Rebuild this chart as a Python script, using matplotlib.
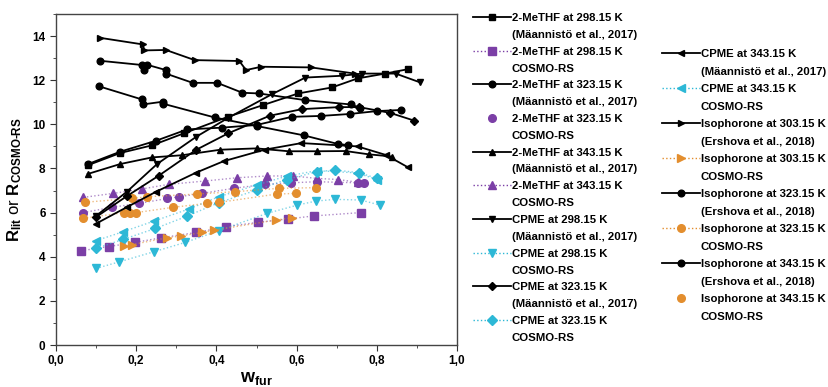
import numpy as np
import matplotlib
matplotlib.use('Agg')
import matplotlib.pyplot as plt
from matplotlib.lines import Line2D
from matplotlib.ticker import FuncFormatter, MultipleLocator

plt.rcParams['font.family'] = ['Liberation Sans', 'DejaVu Sans']
plt.rcParams['font.weight'] = 'bold'
plt.rcParams['mathtext.fontset'] = 'custom'
plt.rcParams['mathtext.rm'] = 'Liberation Sans:bold'
plt.rcParams['mathtext.bf'] = 'Liberation Sans:bold'
plt.rcParams['mathtext.default'] = 'bf'

# ---- experimental data (black) ----
methf298_x = [0.08, 0.16, 0.24, 0.32, 0.43, 0.516, 0.604, 0.688, 0.752, 0.821, 0.878]
methf298_y = [8.15, 8.70, 9.05, 9.60, 10.35, 10.87, 11.40, 11.67, 12.08, 12.30, 12.50]

methf323_x = [0.08, 0.16, 0.25, 0.327, 0.414, 0.50, 0.588, 0.66, 0.733, 0.80, 0.86]
methf323_y = [8.20, 8.76, 9.26, 9.77, 9.85, 9.97, 10.34, 10.38, 10.47, 10.60, 10.65]

methf343_x = [0.079, 0.16, 0.239, 0.314, 0.41, 0.50, 0.58, 0.65, 0.722, 0.78, 0.839]
methf343_y = [7.75, 8.20, 8.50, 8.60, 8.85, 8.91, 8.78, 8.78, 8.79, 8.64, 8.54]

cpme298_x = [0.10, 0.177, 0.252, 0.35, 0.43, 0.539, 0.622, 0.712, 0.764, 0.847, 0.908]
cpme298_y = [5.85, 6.95, 8.20, 9.44, 10.30, 11.37, 12.12, 12.20, 12.30, 12.30, 11.90]

cpme323_x = [0.10, 0.177, 0.256, 0.349, 0.429, 0.533, 0.614, 0.706, 0.756, 0.833, 0.893]
cpme323_y = [5.80, 6.75, 7.67, 8.84, 9.59, 10.39, 10.69, 10.78, 10.78, 10.52, 10.17]

cpme343_x = [0.10, 0.177, 0.25, 0.348, 0.418, 0.52, 0.612, 0.752, 0.823, 0.877]
cpme343_y = [5.50, 6.25, 6.95, 7.80, 8.33, 8.85, 9.15, 9.00, 8.61, 8.06]

iso303_x = [0.11, 0.217, 0.22, 0.274, 0.346, 0.457, 0.474, 0.512, 0.636, 0.745]
iso303_y = [13.92, 13.62, 13.35, 13.37, 12.91, 12.87, 12.46, 12.61, 12.58, 12.30]

iso323_x = [0.11, 0.214, 0.22, 0.227, 0.274, 0.274, 0.341, 0.402, 0.465, 0.506, 0.62, 0.735, 0.758]
iso323_y = [12.88, 12.69, 12.45, 12.70, 12.46, 12.30, 11.88, 11.88, 11.43, 11.40, 11.10, 10.90, 10.75]

iso343_x = [0.106, 0.214, 0.216, 0.268, 0.268, 0.396, 0.502, 0.618, 0.703, 0.728]
iso343_y = [11.73, 11.13, 10.90, 11.03, 10.93, 10.31, 9.92, 9.50, 9.11, 9.06]

# ---- COSMO-RS predictions (coloured) ----
c_methf298_x = [0.0625, 0.131, 0.1975, 0.2625, 0.35, 0.424, 0.504, 0.578, 0.643, 0.76]
c_methf298_y = [4.27, 4.46, 4.65, 4.86, 5.10, 5.36, 5.56, 5.71, 5.85, 6.00]

c_methf323_x = [0.068, 0.139, 0.208, 0.278, 0.3075, 0.364, 0.443, 0.52, 0.587, 0.65, 0.754, 0.768]
c_methf323_y = [6.00, 6.24, 6.42, 6.64, 6.72, 6.87, 7.10, 7.28, 7.35, 7.40, 7.35, 7.33]

c_methf343_x = [0.068, 0.143, 0.214, 0.281, 0.371, 0.452, 0.527, 0.591, 0.65, 0.704, 0.754]
c_methf343_y = [6.69, 6.87, 7.07, 7.28, 7.43, 7.58, 7.66, 7.66, 7.55, 7.50, 7.37]

c_cpme298_x = [0.10, 0.158, 0.245, 0.3225, 0.406, 0.527, 0.602, 0.6475, 0.695, 0.76, 0.808]
c_cpme298_y = [3.47, 3.77, 4.23, 4.65, 5.18, 5.97, 6.34, 6.52, 6.60, 6.57, 6.34]

c_cpme323_x = [0.10, 0.168, 0.2475, 0.327, 0.406, 0.50, 0.575, 0.65, 0.695, 0.756, 0.80]
c_cpme323_y = [4.38, 4.79, 5.28, 5.84, 6.45, 7.02, 7.50, 7.85, 7.93, 7.81, 7.55]

c_cpme343_x = [0.10, 0.167, 0.245, 0.331, 0.406, 0.50, 0.575, 0.65, 0.75, 0.80]
c_cpme343_y = [4.73, 5.13, 5.62, 6.16, 6.72, 7.25, 7.65, 7.90, 7.80, 7.50]

c_iso303_x = [0.17, 0.19, 0.277, 0.3125, 0.364, 0.393, 0.5475, 0.589]
c_iso303_y = [4.50, 4.55, 4.86, 4.94, 5.10, 5.20, 5.66, 5.77]

c_iso323_x = [0.068, 0.17, 0.185, 0.20, 0.292, 0.377, 0.406, 0.55, 0.5975]
c_iso323_y = [5.74, 6.00, 6.00, 6.00, 6.24, 6.42, 6.46, 6.84, 6.87]

c_iso343_x = [0.0725, 0.189, 0.227, 0.352, 0.4475, 0.556, 0.6475]
c_iso343_y = [6.47, 6.64, 6.72, 6.84, 6.95, 7.10, 7.13]

purple = '#7B3FA6'
cyan = '#2DB8D6'
orange = '#E38E2E'

fig = plt.figure(figsize=(8.29, 3.87), dpi=100)
ax = fig.add_axes([56 / 829, 42 / 387, 401 / 829, 331 / 387])


def exp_line(x, y, marker, ms=4.8):
    h, = ax.plot(x, y, color='black', lw=1.3, marker=marker, ms=ms, zorder=3)
    return h


def cosmo_line(x, y, marker, color, ms=5.5, show_line=True):
    ax.plot(x, y, color=color, lw=1.0, ls=':', alpha=0.6, zorder=2)
    ax.plot(x, y, color=color, ls='none', marker=marker, ms=ms, zorder=2)
    return Line2D([], [], color=color, lw=1.0, ls=':' if show_line else 'none',
                  marker=marker, ms=ms)


h = []
h.append(exp_line(methf298_x, methf298_y, 's'))
h.append(cosmo_line(c_methf298_x, c_methf298_y, 's', purple))
h.append(exp_line(methf323_x, methf323_y, 'o'))
h.append(cosmo_line(c_methf323_x, c_methf323_y, 'o', purple, show_line=False))
h.append(exp_line(methf343_x, methf343_y, '^'))
h.append(cosmo_line(c_methf343_x, c_methf343_y, '^', purple))
h.append(exp_line(cpme298_x, cpme298_y, 'v'))
h.append(cosmo_line(c_cpme298_x, c_cpme298_y, 'v', cyan))
h.append(exp_line(cpme323_x, cpme323_y, 'D', ms=4.2))
h.append(cosmo_line(c_cpme323_x, c_cpme323_y, 'D', cyan, ms=5))
h.append(exp_line(cpme343_x, cpme343_y, '<'))
h.append(cosmo_line(c_cpme343_x, c_cpme343_y, '<', cyan))
h.append(exp_line(iso303_x, iso303_y, '>'))
h.append(cosmo_line(c_iso303_x, c_iso303_y, '>', orange))
h.append(exp_line(iso323_x, iso323_y, 'o'))
h.append(cosmo_line(c_iso323_x, c_iso323_y, 'o', orange))
h.append(exp_line(iso343_x, iso343_y, 'o'))
h.append(cosmo_line(c_iso343_x, c_iso343_y, 'o', orange, show_line=False))

labels = [
    ('2-MeTHF at 298.15 K', '(Mäannistö et al., 2017)'),
    ('2-MeTHF at 298.15 K', 'COSMO-RS'),
    ('2-MeTHF at 323.15 K', '(Mäannistö et al., 2017)'),
    ('2-MeTHF at 323.15 K', 'COSMO-RS'),
    ('2-MeTHF at 343.15 K', '(Mäannistö et al., 2017)'),
    ('2-MeTHF at 343.15 K', 'COSMO-RS'),
    ('CPME at 298.15 K', '(Mäannistö et al., 2017)'),
    ('CPME at 298.15 K', 'COSMO-RS'),
    ('CPME at 323.15 K', '(Mäannistö et al., 2017)'),
    ('CPME at 323.15 K', 'COSMO-RS'),
    ('CPME at 343.15 K', '(Mäannistö et al., 2017)'),
    ('CPME at 343.15 K', 'COSMO-RS'),
    ('Isophorone at 303.15 K', '(Ershova et al., 2018)'),
    ('Isophorone at 303.15 K', 'COSMO-RS'),
    ('Isophorone at 323.15 K', '(Ershova et al., 2018)'),
    ('Isophorone at 323.15 K', 'COSMO-RS'),
    ('Isophorone at 343.15 K', '(Ershova et al., 2018)'),
    ('Isophorone at 343.15 K', 'COSMO-RS'),
]

ax.set_xlim(0, 1.0)
ax.set_ylim(0, 15)
ax.xaxis.set_major_locator(MultipleLocator(0.2))
ax.xaxis.set_minor_locator(MultipleLocator(0.1))
ax.yaxis.set_major_locator(MultipleLocator(2))
ax.yaxis.set_minor_locator(MultipleLocator(1))
ax.xaxis.set_major_formatter(FuncFormatter(lambda v, p: f'{v:.1f}'.replace('.', ',')))
ax.tick_params(which='both', direction='out', top=False, right=False,
               labelsize=8.5, color='#333333')
ax.tick_params(which='major', length=4)
ax.tick_params(which='minor', length=2.5)
for s in ax.spines.values():
    s.set_color('#444444')
    s.set_linewidth(1.0)

ax.set_xlabel(r'$\mathbf{w}_{\mathbf{fur}}$', fontsize=13, labelpad=2)
ax.set_ylabel(r'$\mathbf{R}_{\mathbf{lit}}$ or $\mathbf{R}_{\mathbf{COSMO\text{-}RS}}$',
              fontsize=12, labelpad=6)


def rows(handles, labs):
    hh, ll = [], []
    for hd, (a, b) in zip(handles, labs):
        hh += [hd, Line2D([], [], ls='none')]
        ll += [a, b]
    return hh, ll


hh1, ll1 = rows(h[:10], labels[:10])
hh2, ll2 = rows(h[10:], labels[10:])
common = dict(frameon=False, fontsize=8.2, handlelength=3.3, handletextpad=0.1,
              borderpad=0, borderaxespad=0, loc='upper left')
leg1 = fig.legend(hh1, ll1, bbox_to_anchor=(473 / 829, 1 - 13 / 387),
                  labelspacing=0.6, **common)
leg2 = fig.legend(hh2, ll2, bbox_to_anchor=(662 / 829, 1 - 49 / 387),
                  labelspacing=0.66, **common)

fig.savefig('out.png', dpi=100)
